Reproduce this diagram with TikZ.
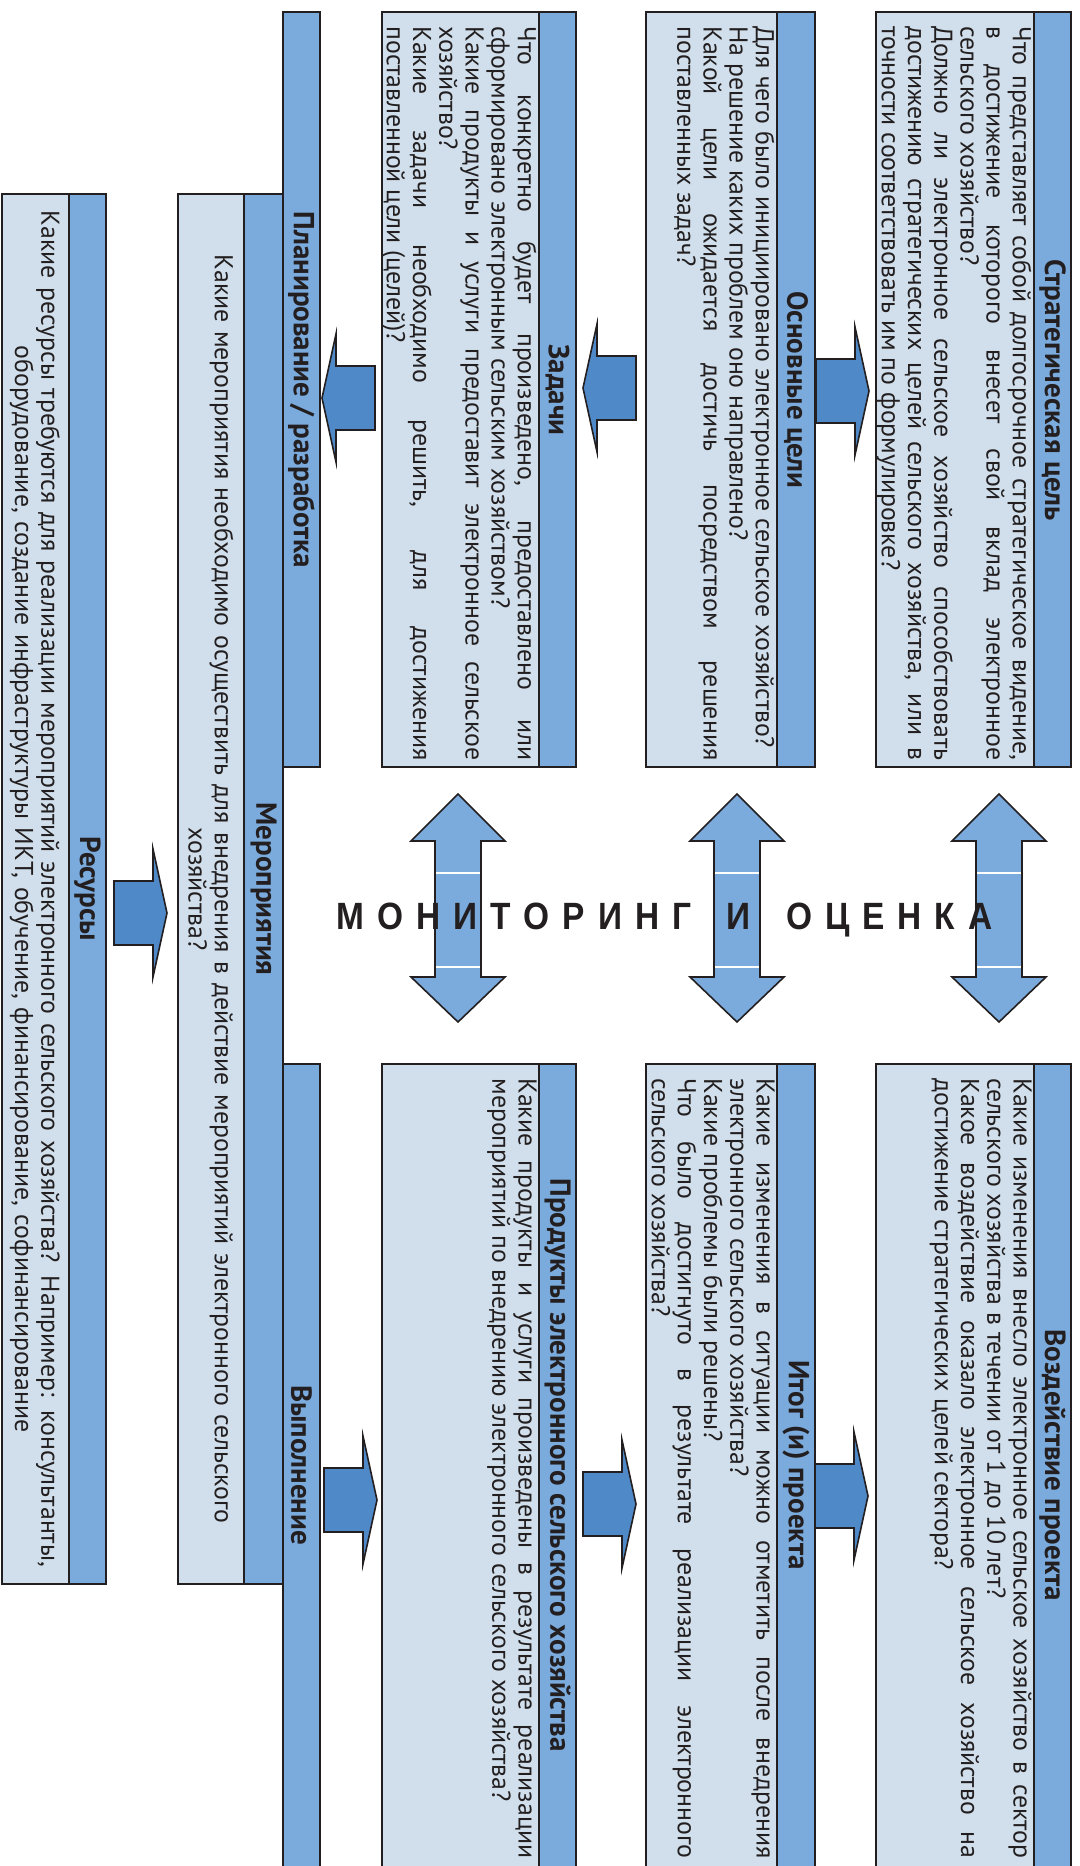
\documentclass[tikz,border=0pt]{standalone}
\usepackage{fontspec}
\setmainfont{PT Sans}
\newfontfamily\monfont{Liberation Sans}[FakeStretch=0.88]
\usepackage{xcolor}
\usepackage{tikz}
\usetikzlibrary{calc}

\definecolor{hdrblue}{RGB}{123,170,220}
\definecolor{bodyblue}{RGB}{208,223,235}
\definecolor{arrblue}{RGB}{79,137,199}
\definecolor{ink}{RGB}{35,31,32}

\hyphenpenalty=10000
\exhyphenpenalty=10000
\tolerance=9999

\begin{document}
\begin{tikzpicture}[
		%Global config
		x=0.5pt, y=-0.5pt,
		color=ink,
		%Styles
		Body/.style={fill=bodyblue, draw=ink, line width=1.3pt},
		Head/.style={fill=hdrblue, draw=ink, line width=1.3pt},
		Blk/.style={fill=arrblue, draw=ink, line width=0.8pt},
		Dbl/.style={fill=hdrblue, draw=ink, line width=0.8pt},
		Title/.style={
			rotate=-90,
			inner sep=0pt,
			font=\fontsize{14.5}{15}\selectfont\bfseries
		},
		Txt/.style={
			rotate=-90,
			anchor=north west,
			inner sep=0pt,
			text width=#1,
			align=justify,
			font=\fontsize{12.9}{13.1}\selectfont
		},
		Mid/.style={
			rotate=-90,
			inner sep=0pt,
			text width=680pt,
			align=center,
			font=\fontsize{12.9}{13.1}\selectfont
		},
		sarrow/.pic={
			\filldraw[Blk] (0,-32) -- (39,-32) -- (39,-64) -- (53,0) -- (39,64) -- (39,32) -- (0,32) -- cycle;
		},
		darrow/.pic={
			\filldraw[Dbl] (-23,-67) -- (-47,-67) -- (0,-114) -- (47,-67) -- (23,-67) -- (23,69) -- (47,69) -- (0,114) -- (-47,69) -- (-23,69) -- cycle;
			\draw[white, line width=0.8pt] (-22,-35) -- (22,-35) (-22,59) -- (22,59);
		}
	]
	\useasboundingbox (0,0) rectangle (1080,1866);

	% top row
	\filldraw[Body] (876,12) rectangle (1034,767);
	\filldraw[Head] (1034,12) rectangle (1071,767);
	\filldraw[Body] (646,12) rectangle (777,767);
	\filldraw[Head] (777,12) rectangle (815,767);
	\filldraw[Body] (382,12) rectangle (539,767);
	\filldraw[Head] (539,12) rectangle (576,767);
	\filldraw[Head] (283,12) rectangle (320,767);

	% bottom row
	\filldraw[Body] (876,1064) rectangle (1034,1870);
	\filldraw[Head] (1034,1064) rectangle (1071,1870);
	\filldraw[Body] (646,1064) rectangle (777,1870);
	\filldraw[Head] (777,1064) rectangle (815,1870);
	\filldraw[Body] (382,1064) rectangle (539,1870);
	\filldraw[Head] (539,1064) rectangle (576,1870);
	\filldraw[Head] (283,1064) rectangle (320,1870);

	% long boxes
	\filldraw[Body] (178,194) rectangle (244,1584);
	\filldraw[Head] (244,194) rectangle (283,1584);
	\filldraw[Body] (2,194) rectangle (69,1584);
	\filldraw[Head] (69,194) rectangle (106,1584);

	% titles
	\node[Title] (stratT) at (1052.5,390) {Стратегическая цель};
	\node[Title] (goalsT) at (796,390) {Основные цели};
	\node[Title] (tasksT) at (557.5,390) {Задачи};
	\node[Title] (planT) at (301.5,390) {Планирование / разработка};
	\node[Title] (impactT) at (1052.5,1465) {Воздействие проекта};
	\node[Title] (outT) at (796,1465) {Итог (и) проекта};
	\node[Title] (prodT) at (557.5,1465) {Продукты электронного сельского хозяйства};
	\node[Title] (execT) at (301.5,1465) {Выполнение};
	\node[Title] (actT) at (263.5,889) {Мероприятия};
	\node[Title] (resT) at (87.5,889) {Ресурсы};

	% texts
	\node[Txt=367pt] (strat) at (1032,26) {Что представляет собой долгосрочное стратегическое видение,\linebreak в достижение которого внесет свой вклад электронное\linebreak сельского хозяйство?\\ Должно ли электронное сельское хозяйство способствовать\linebreak достижению стратегических целей сельского хозяйства, или в\linebreak точности соответствовать им по формулировке?};
	\node[Txt=367pt] (goals) at (775,26) {Для чего было инициировано электронное сельское хозяйство?\\ На решение каких проблем оно направлено?\\ Какой цели ожидается достичь посредством решения\linebreak поставленных задач?};
	\node[Txt=367pt] (tasks) at (537,26) {Что конкретно будет произведено, предоставлено или\linebreak сформировано электронным сельским хозяйством?\\ Какие продукты и услуги предоставит электронное сельское\linebreak хозяйство?\\ Какие задачи необходимо решить, для достижения\linebreak поставленной цели (целей)?};
	\node[Txt=390pt] (impact) at (1032,1078) {Какие изменения внесло электронное сельское хозяйство в сектор\linebreak сельского хозяйства в течении от 1 до 10 лет?\\ Какое воздействие оказало электронное сельское хозяйство на\linebreak достижение стратегических целей сектора?};
	\node[Txt=390pt] (out) at (775,1078) {Какие изменения в ситуации можно отметить после внедрения\linebreak электронного сельского хозяйства?\\ Какие проблемы были решены?\\ Что было достигнуто в результате реализации электронного\linebreak сельского хозяйства?};
	\node[Txt=390pt] (prod) at (537,1078) {Какие продукты и услуги произведены в результате реализации\linebreak мероприятий по внедрению электронного сельского хозяйства?};
	\node[Mid] (act) at (211,889) {Какие мероприятия необходимо осуществить для внедрения в действие мероприятий электронного сельского\\ хозяйства?};
	\node[Mid] (res) at (35,889) {Какие ресурсы требуются для реализации мероприятий электронного сельского хозяйства? Например: консультанты,\\ оборудование, создание инфраструктуры ИКТ, обучение, финансирование, софинансирование};

	% arrows
	\pic at (816,391) {sarrow};
	\pic[xscale=-1] at (636,388) {sarrow};
	\pic[xscale=-1] at (375,398) {sarrow};
	\pic at (114,913) {sarrow};
	\pic at (815,1496) {sarrow};
	\pic at (583,1504) {sarrow};
	\pic at (324,1500) {sarrow};

	\pic at (458,908) {darrow};
	\pic at (737,908) {darrow};
	\pic at (999,908) {darrow};

	\node[anchor=base, inner sep=0pt, font=\monfont\bfseries\fontsize{19}{19}\selectfont] (mon) at (671,929)
		{\foreach \c in {М,О,Н,И,Т,О,Р,И,Н,Г,~,И,~,О,Ц,Е,Н,К,А}{\c\kern6.5pt}};
\end{tikzpicture}
\end{document}
